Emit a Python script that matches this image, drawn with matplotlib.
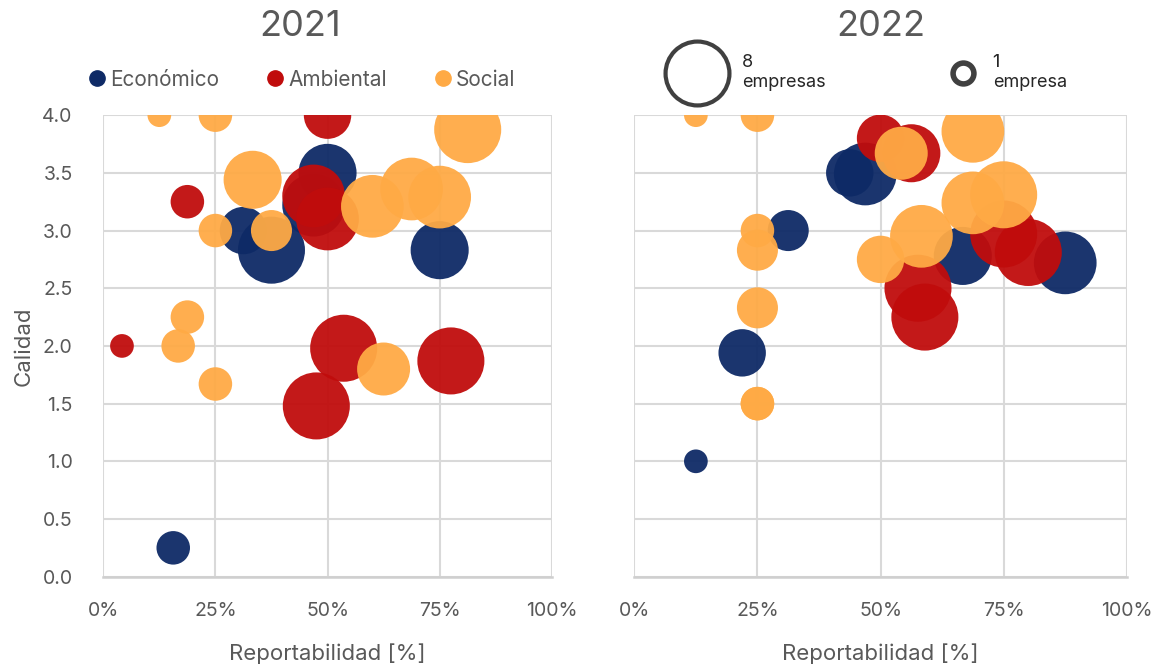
import matplotlib.pyplot as plt
from matplotlib.lines import Line2D
import numpy as np

plt.rcParams['font.family'] = ['Inter', 'DejaVu Sans']

# 2021  (reportabilidad %, calidad, n empresas)
eco21_x = [50.0, 46.9, 31.25, 37.5, 75.0, 15.6]
eco21_y = [3.50, 3.22, 3.00, 2.83, 2.83, 0.25]
eco21_n = [6, 7, 4, 8, 6, 2]

amb21_x = [50.0, 46.9, 50.0, 18.75, 4.17, 53.6, 77.5, 47.5]
amb21_y = [4.00, 3.30, 3.10, 3.25, 2.00, 1.98, 1.87, 1.48]
amb21_n = [4, 7, 7, 2, 1, 8, 8, 8]

soc21_x = [12.5, 25.0, 81.25, 33.3, 60.0, 68.75, 75.0, 25.0, 37.5, 18.75, 16.7, 25.0, 62.5]
soc21_y = [4.00, 4.00, 3.875, 3.44, 3.21, 3.36, 3.29, 3.00, 3.00, 2.25, 2.00, 1.67, 1.80]
soc21_n = [1, 2, 8, 6, 7, 7, 7, 2, 3, 2, 2, 2, 5]

# 2022
eco22_x = [43.75, 46.9, 31.25, 21.9, 66.7, 87.5, 12.5]
eco22_y = [3.50, 3.49, 3.00, 1.94, 2.78, 2.72, 1.00]
eco22_n = [4, 7, 3, 4, 6, 7, 1]

amb22_x = [50.0, 56.25, 57.6, 59.0, 75.0, 80.0]
amb22_y = [3.80, 3.67, 2.50, 2.25, 2.97, 2.81]
amb22_n = [4, 6, 8, 8, 8, 8]

soc22_x = [12.5, 25.0, 54.2, 68.75, 25.0, 25.0, 25.0, 50.0, 58.3, 68.75, 75.0, 25.0, 25.0]
soc22_y = [4.00, 4.00, 3.67, 3.86, 3.00, 2.83, 2.33, 2.75, 2.95, 3.24, 3.31, 1.50, 1.50]
soc22_n = [1, 2, 5, 7, 2, 3, 3, 4, 7, 7, 8, 2, 2]

colors = {'Económico': '#0E2A66', 'Ambiental': '#C00C0C', 'Social': '#FFAA45'}
grey = '#595959'
s1 = (23.7 * 0.72) ** 2   # marker area for 1 empresa

fig = plt.figure(figsize=(11.59, 6.65), dpi=100)
ax1 = fig.add_axes([0.0891, 0.1328, 0.387, 0.694])
ax2 = fig.add_axes([0.5473, 0.1328, 0.4249, 0.694])

data = [
    (ax1, [(eco21_x, eco21_y, eco21_n, 'Económico'),
           (amb21_x, amb21_y, amb21_n, 'Ambiental'),
           (soc21_x, soc21_y, soc21_n, 'Social')], '2021', 0.438),
    (ax2, [(eco22_x, eco22_y, eco22_n, 'Económico'),
           (amb22_x, amb22_y, amb22_n, 'Ambiental'),
           (soc22_x, soc22_y, soc22_n, 'Social')], '2022', 0.5),
]

for ax, series, title, tx in data:
    for x, y, n, lab in series:
        ax.scatter(np.array(x) / 100, y, s=np.array(n) * s1, color=colors[lab],
                   alpha=0.95, linewidths=0, zorder=3)
    ax.set_xlim(0, 1)
    ax.set_ylim(0, 4)
    ax.set_xticks(np.arange(0, 1.01, 0.25))
    ax.set_xticklabels(['0%', '25%', '50%', '75%', '100%'])
    ax.set_yticks(np.arange(0, 4.01, 0.5))
    ax.grid(True, color='#D9D9D9', lw=1.5, zorder=0)
    for sp in ax.spines.values():
        sp.set_visible(False)
    ax.spines['bottom'].set_visible(True)
    ax.spines['bottom'].set_color('#CFCFCF')
    ax.spines['bottom'].set_linewidth(1.8)
    ax.tick_params(length=0, labelsize=14, labelcolor=grey, pad=18)
    ax.set_xlabel('Reportabilidad [%]', fontsize=16, color=grey, labelpad=17)
    ax.set_title(title, fontsize=26, color=grey, pad=57, x=tx)

ax1.yaxis.set_major_formatter(plt.FormatStrFormatter('%.1f'))
ax1.tick_params(axis='y', pad=22)
ax1.set_ylabel('Calidad', fontsize=16, color=grey, labelpad=6)
ax2.set_yticklabels([])

cat_handles = [Line2D([], [], marker='o', ls='', ms=11, mfc=c, mec=c)
               for c in colors.values()]
ax1.legend(cat_handles, list(colors.keys()), loc='lower left',
           bbox_to_anchor=(-0.066, 1.024), ncol=3, frameon=False, fontsize=15,
           labelcolor=grey, handlelength=0.8, handletextpad=0.23,
           columnspacing=2.3, borderaxespad=0.3)

big = Line2D([], [], marker='o', ls='', ms=46, mfc='none', mec='#404040', mew=3)
small = Line2D([], [], marker='o', ls='', ms=15, mfc='none', mec='#404040', mew=4)
leg_big = ax2.legend([big], ['8\nempresas'], loc='center left',
                     bbox_to_anchor=(0.058, 1.092), frameon=False, fontsize=13,
                     labelcolor='#262626', handlelength=3.77, handletextpad=0.61,
                     borderaxespad=0, borderpad=0)
ax2.add_artist(leg_big)
ax2.legend([small], ['1\nempresa'], loc='center left',
           bbox_to_anchor=(0.6386, 1.092), frameon=False, fontsize=13,
           labelcolor='#262626', handlelength=1.6, handletextpad=0.83,
           borderaxespad=0, borderpad=0)

fig.savefig('out.png', dpi=100)
